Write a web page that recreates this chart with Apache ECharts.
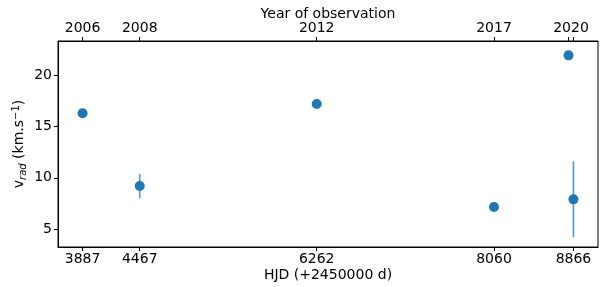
<!DOCTYPE html>
<html>
<head>
<meta charset="utf-8">
<script src="https://cdn.jsdelivr.net/npm/echarts@6/dist/echarts.min.js"></script>
<style>
  html, body { margin: 0; padding: 0; background: #fff; }
  #chart { width: 606px; height: 287px; }
</style>
</head>
<body>
<div id="chart"></div>
<script>
// observations: HJD - 2450000, radial velocity and its error
var hjd = [3887, 4467, 6262, 8060, 8816, 8866]
var vrad = [16.3, 9.2, 17.2, 7.15, 21.95, 7.9]
var vErr = [0, 1.2, 0, 0, 0, 3.7]

// tick labels
var hjdTicks = [3887, 4467, 6262, 8060, 8866]
var yearTicks = [3887, 4467, 6262, 8060, 8816, 8866]
var yearLabels = ['2006', '2008', '2012', '2017', '2020', '2020']
var vTicks = [5, 10, 15, 20]

var blue = '#1f77b4'
var font = 'DejaVu Sans'
var fs = 14

// the two 2020 observations share one label, put it between them
var yearLabelPos = []
var yearLabelTxt = []
for (var i = 0; i < yearTicks.length; i++) {
  if (i > 0 && yearLabels[i] === yearLabels[i - 1]) {
    yearLabelPos[yearLabelPos.length - 1] = (yearTicks[i] + yearTicks[i - 1]) / 2
  } else {
    yearLabelPos.push(yearTicks[i])
    yearLabelTxt.push(yearLabels[i])
  }
}

var points = hjd.map(function (x, i) { return [x, vrad[i]] })
var bars = hjd.map(function (x, i) { return [x, vrad[i] - vErr[i], vrad[i] + vErr[i]] })
  .filter(function (d) { return d[2] > d[1] })

var chart = echarts.init(document.getElementById('chart'))
chart.setOption({
  animation: false,
  grid: {
    left: 58, right: 8, top: 41, bottom: 40,
    containLabel: false,
    outerBoundsMode: 'none',
    show: true, borderColor: '#000', borderWidth: 1
  },
  xAxis: [{
    type: 'value',
    min: 3638, max: 9115,
    name: 'HJD (+2450000 d)',
    nameLocation: 'middle',
    nameMoveOverlap: false,
    nameGap: 21,
    nameTextStyle: { fontFamily: font, fontSize: fs, color: '#000' },
    axisLine: { show: true, lineStyle: { color: '#000', width: 1 } },
    axisTick: { show: true, length: 4, customValues: hjdTicks, lineStyle: { color: '#000' } },
    axisLabel: {
      customValues: hjdTicks, fontFamily: font, fontSize: fs, color: '#000', margin: 5,
      formatter: function (v) { return String(v) }
    },
    splitLine: { show: false }
  }, {
    type: 'value',
    position: 'top',
    min: 3638, max: 9115,
    name: 'Year of observation',
    nameLocation: 'middle',
    nameMoveOverlap: false,
    nameGap: 20,
    nameTextStyle: { fontFamily: font, fontSize: fs, color: '#000' },
    axisLine: { show: true, lineStyle: { color: '#000', width: 1 } },
    axisTick: { show: true, length: 4, customValues: yearTicks, lineStyle: { color: '#000' } },
    axisLabel: {
      customValues: yearLabelPos,
      fontFamily: font, fontSize: fs, color: '#000', margin: 6,
      formatter: function (v) {
        var k = yearLabelPos.indexOf(v)
        return k >= 0 ? yearLabelTxt[k] : ''
      }
    },
    splitLine: { show: false }
  }],
  yAxis: {
    type: 'value',
    min: 3.25, max: 23.35,
    name: '{n|v}{sub|rad}{n| (km.s}{sup|−1}{n|)}',
    nameLocation: 'middle',
    nameMoveOverlap: false,
    nameGap: 30,
    nameRotate: 90,
    nameTextStyle: {
      fontFamily: font, fontSize: fs, color: '#000',
      rich: {
        n: { fontFamily: font, fontSize: fs, color: '#000' },
        sub: { fontFamily: font, fontSize: 10, fontStyle: 'italic', color: '#000', verticalAlign: 'bottom', padding: [7, 0, 0, 0] },
        sup: { fontFamily: font, fontSize: 10, color: '#000', verticalAlign: 'top', padding: [0, 0, 7, 0] }
      }
    },
    axisLine: { show: true, lineStyle: { color: '#000', width: 1 } },
    axisTick: { show: true, length: 4, customValues: vTicks, lineStyle: { color: '#000' } },
    axisLabel: { customValues: vTicks, fontFamily: font, fontSize: fs, color: '#000', margin: 6 },
    splitLine: { show: false }
  },
  series: [{
    type: 'custom',
    data: bars,
    z: 1,
    renderItem: function (params, api) {
      var lo = api.coord([api.value(0), api.value(1)])
      var hi = api.coord([api.value(0), api.value(2)])
      return {
        type: 'line',
        shape: { x1: lo[0], y1: lo[1], x2: hi[0], y2: hi[1] },
        style: { stroke: blue, lineWidth: 1.6, opacity: 0.75 }
      }
    }
  }, {
    type: 'scatter',
    data: points,
    z: 2,
    symbol: 'circle',
    symbolSize: 10,
    itemStyle: { color: blue, opacity: 1 }
  }]
})
</script>
</body>
</html>
